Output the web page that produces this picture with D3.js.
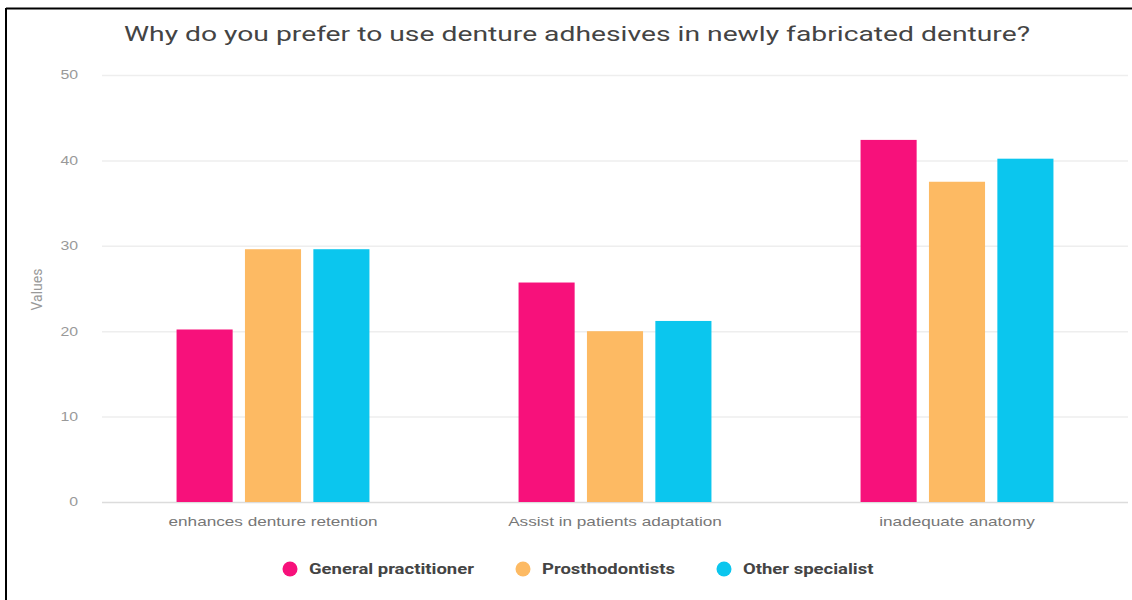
<!DOCTYPE html>
<html>
<head>
<meta charset="utf-8">
<script src="https://cdn.jsdelivr.net/npm/d3@7"></script>
<style>
  html, body { margin: 0; padding: 0; background: #fff; }
  svg { display: block; font-family: Roboto, "Noto Sans", sans-serif; }
</style>
</head>
<body>
<svg id="chart" width="1132" height="600"></svg>
<script>
// Survey answers per reason, split by respondent group
const categories = ["enhances denture retention", "Assist in patients adaptation", "inadequate anatomy"];
const seriesNames = ["General practitioner", "Prosthodontists", "Other specialist"];
const generalPractitioner = [20.2, 25.7, 42.4];
const prosthodontists = [29.6, 20.0, 37.5];
const otherSpecialist = [29.6, 21.2, 40.2];
const yTicks = [0, 10, 20, 30, 40, 50];
const colors = ["#f7117b", "#fdba63", "#0bc6ee"];

const seriesValues = [generalPractitioner, prosthodontists, otherSpecialist];
const rows = categories.map((c, i) => ({
  category: c,
  values: seriesNames.map((s, j) => ({ series: s, value: seriesValues[j][i] }))
}));

const svg = d3.select("#chart");
const W = 1132, H = 600;
const plot = { left: 102, right: 1128, top: 75, bottom: 502 };
const widen = 1.32; // horizontal stretch applied to the text

// Stretch a text selection horizontally around its anchor
function stretch(sel) {
  sel.each(function () {
    const len = this.getComputedTextLength();
    d3.select(this).attr("textLength", len * widen).attr("lengthAdjust", "spacingAndGlyphs");
  });
}

// Frame lines on the top and left edges
svg.append("line").attr("x1", 6).attr("x2", W).attr("y1", 8.5).attr("y2", 8.5)
  .attr("stroke", "#000").attr("stroke-width", 2);
svg.append("line").attr("x1", 6).attr("x2", 6).attr("y1", 8).attr("y2", H)
  .attr("stroke", "#000").attr("stroke-width", 2);

const x0 = d3.scaleBand().domain(categories).range([plot.left, plot.right])
  .paddingInner(0.436).paddingOuter(0.218);
const x1 = d3.scaleBand().domain(seriesNames).range([0, x0.bandwidth()])
  .paddingInner(0.18).paddingOuter(0);
const y = d3.scaleLinear().domain([0, 50]).range([plot.bottom, plot.top]);
const color = d3.scaleOrdinal().domain(seriesNames).range(colors);

// Horizontal gridlines with tick labels
const yAxis = svg.append("g")
  .attr("transform", `translate(${plot.left},0)`)
  .call(d3.axisLeft(y).tickValues(yTicks).tickSize(-(plot.right - plot.left)).tickPadding(24));
yAxis.select(".domain").remove();
yAxis.selectAll(".tick line").attr("stroke", d => d === 0 ? "#dcdcdc" : "#eeeeee").attr("stroke-width", 1.5);
yAxis.selectAll(".tick text").attr("fill", "#999").style("font-size", "12px").call(stretch);

// Y axis title
svg.append("text")
  .attr("transform", `translate(42,${(plot.top + plot.bottom) / 2 + 1}) rotate(-90)`)
  .attr("text-anchor", "middle")
  .attr("fill", "#999")
  .style("font-size", "14px")
  .text("Values");

// Bars
const groups = svg.append("g").selectAll("g").data(rows).join("g")
  .attr("transform", d => `translate(${x0(d.category)},0)`);
groups.selectAll("rect").data(d => d.values).join("rect")
  .attr("x", d => x1(d.series))
  .attr("y", d => y(d.value))
  .attr("width", x1.bandwidth())
  .attr("height", d => y(0) - y(d.value))
  .attr("fill", d => color(d.series));

// Category labels
const xAxis = svg.append("g")
  .attr("transform", `translate(0,${plot.bottom})`)
  .call(d3.axisBottom(x0).tickSize(0).tickPadding(15));
xAxis.select(".domain").remove();
xAxis.selectAll(".tick text").attr("fill", "#777").style("font-size", "13px").call(stretch);

// Title
svg.append("text")
  .attr("x", 577).attr("y", 41)
  .attr("text-anchor", "middle")
  .attr("fill", "#444")
  .style("font-size", "21px")
  .text("Why do you prefer to use denture adhesives in newly fabricated denture?")
  .each(function () {
    d3.select(this).attr("textLength", 906).attr("lengthAdjust", "spacingAndGlyphs");
  });

// Legend
const legendPos = [290, 523, 724];
const legend = svg.append("g").selectAll("g").data(seriesNames).join("g")
  .attr("transform", (d, i) => `translate(${legendPos[i]},569)`);
legend.append("circle").attr("r", 7.5).attr("fill", d => color(d));
legend.append("text")
  .attr("x", 19).attr("dy", "0.35em")
  .attr("fill", "#444")
  .style("font-size", "14px")
  .style("font-weight", "bold")
  .text(d => d)
  .call(stretch);
</script>
</body>
</html>
